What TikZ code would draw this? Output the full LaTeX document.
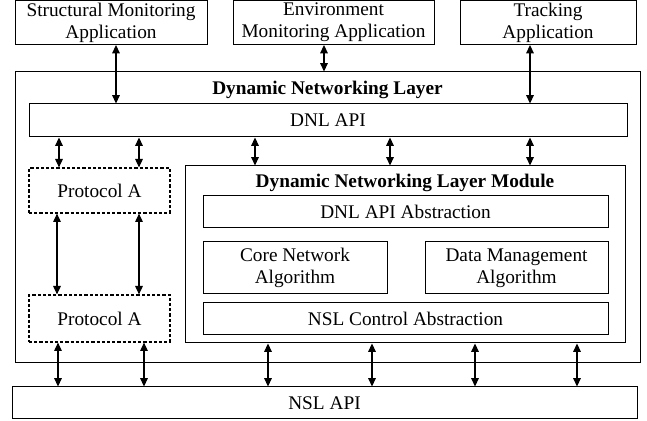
\documentclass[tikz,border=0pt]{standalone}
\usepackage{fontspec}
\setmainfont{Liberation Serif}
\usepackage{tikz}
\usetikzlibrary{arrows.meta,positioning}

\begin{document}
\begin{tikzpicture}[
    x=0.5pt, y=-0.5pt,
    font=\fontsize{9.65}{11}\selectfont,
    box/.style={rectangle, draw, line width=0.5pt, inner sep=0pt, align=center},
    dashbox/.style={box, dash pattern=on 1.6pt off 1pt, line width=0.6pt},
    title/.style={font=\fontsize{9.65}{11}\selectfont\bfseries},
    link/.style={{Triangle[length=4.2pt,width=3.8pt]}-{Triangle[length=4.2pt,width=3.8pt]}, line width=0.6pt},
]
    \useasboundingbox (0,0) rectangle (647,421);

    % Applications
    \node[box, minimum width=96pt, minimum height=22pt] (struct) at (111, 22.5) {Structural Monitoring\\Application};
    \node[box, minimum width=100.5pt, minimum height=22pt] (env) at (333.5, 22.5) {Environment\\Monitoring Application};
    \node[box, minimum width=88pt, minimum height=22pt] (track) at (548, 22.5) {Tracking\\Application};

    % Dynamic networking layer
    \node[box, minimum width=312.5pt, minimum height=145.5pt] (dnl) at (327.5, 217.5) {};
    \node[title] (dnltitle) at (327.5, 90) {Dynamic Networking Layer};
    \node[box, minimum width=299pt, minimum height=16.5pt] (dnlapi) at (328, 120.5) {DNL API};

    % Protocols
    \node[dashbox, minimum width=70.5pt, minimum height=22.5pt] (protoa) at (99.5, 190.5) {Protocol A};
    \node[dashbox, minimum width=70.5pt, minimum height=23.5pt] (protob) at (99.5, 318.5) {Protocol A};

    % Module
    \node[box, minimum width=220pt, minimum height=88.5pt] (module) at (405, 254.5) {};
    \node[title] (modtitle) at (405, 183) {Dynamic Networking Layer Module};
    \node[box, minimum width=202.5pt, minimum height=16pt] (apiabs) at (405.5, 212) {DNL API Abstraction};
    \node[box, minimum width=92pt, minimum height=26pt] (core) at (295, 268) {Core Network\\Algorithm};
    \node[box, minimum width=91.5pt, minimum height=26pt] (data) at (516.5, 268) {Data Management\\Algorithm};
    \node[box, minimum width=202.5pt, minimum height=16pt] (nslctrl) at (405.5, 319) {NSL Control Abstraction};

    % NSL
    \node[box, minimum width=312.5pt, minimum height=16pt] (nslapi) at (324.5, 403) {NSL API};

    % Arrows
    \draw[link] (struct.south -| 116,0) -- (dnlapi.north -| 116,0);
    \draw[link] (env.south -| 324,0) -- (dnl.north -| 324,0);
    \draw[link] (track.south -| 530,0) -- (dnlapi.north -| 530,0);
    \foreach \x in {59, 139} {
        \draw[link] (dnlapi.south -| \x,0) -- (protoa.north -| \x,0);
    }
    \foreach \x in {255, 390, 530} {
        \draw[link] (dnlapi.south -| \x,0) -- (module.north -| \x,0);
    }
    \foreach \x in {57, 139} {
        \draw[link] (protoa.south -| \x,0) -- (protob.north -| \x,0);
    }
    \foreach \x in {58, 144} {
        \draw[link] (protob.south -| \x,0) -- (nslapi.north -| \x,0);
    }
    \foreach \x in {268, 372, 475, 577} {
        \draw[link] (module.south -| \x,0) -- (nslapi.north -| \x,0);
    }
\end{tikzpicture}
\end{document}
